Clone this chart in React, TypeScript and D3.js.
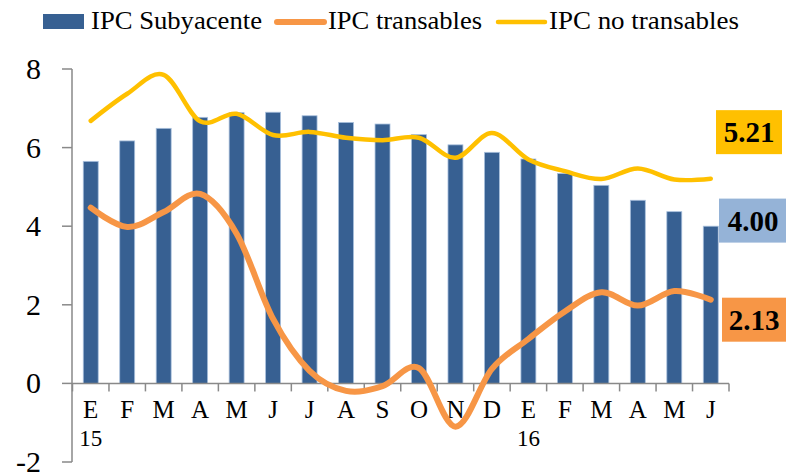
import React from "react";
import * as d3 from "d3";

const categories = ["E", "F", "M", "A", "M", "J", "J", "A", "S", "O", "N", "D", "E", "F", "M", "A", "M", "J"];
const yearLabels = ["15", "", "", "", "", "", "", "", "", "", "", "", "16", "", "", "", "", ""];
const subyacente = [5.65, 6.17, 6.49, 6.77, 6.89, 6.90, 6.81, 6.64, 6.60, 6.33, 6.07, 5.88, 5.71, 5.34, 5.04, 4.66, 4.37, 4.00];
const transables = [4.47, 3.98, 4.36, 4.82, 3.81, 1.64, 0.32, -0.19, -0.07, 0.39, -1.1, 0.37, 1.13, 1.83, 2.32, 1.98, 2.35, 2.13];
const noTransables = [6.68, 7.37, 7.85, 6.67, 6.86, 6.32, 6.40, 6.25, 6.19, 6.25, 5.74, 6.37, 5.70, 5.40, 5.20, 5.47, 5.19, 5.21];
const yTicks = [-2, 0, 2, 4, 6, 8];
const seriesNames = ["IPC Subyacente", "IPC transables", "IPC no transables"];
const endLabels = ["5.21", "4.00", "2.13"];

const W = 786, H = 474;
const BLUE = "#376092", ORANGE = "#F79646", YELLOW = "#FFC000", LIGHTBLUE = "#95B3D7", AXIS = "#898989";

function T(props: any) {
  const { children, ...rest } = props;
  return (
    <text fontFamily="Liberation Serif" style={{ fontFamily: "Liberation Serif" }} fill="#000" {...rest}>{children}</text>
  );
}

export default function App() {
  const x = d3.scaleBand<number>().domain(d3.range(categories.length)).range([72.5, 729]).paddingInner(0.59).paddingOuter(0.295);
  const xb = d3.scaleBand<number>().domain(d3.range(categories.length)).range([72.5, 729]);
  const y = d3.scaleLinear().domain([-2, 8]).range([462, 69]);
  const cx = (i: number) => (xb(i) as number) + xb.bandwidth() / 2;
  const line = d3.line<number>().x((_, i) => cx(i)).y((d) => y(d)).curve(d3.curveCatmullRom.alpha(0));
  const last = categories.length - 1;
  const boxes = [
    { text: endLabels[0], fill: YELLOW, x0: 716, x1: 782, cy: y(noTransables[last]) - 46.5, tx: 749 },
    { text: endLabels[1], fill: LIGHTBLUE, x0: 719, x1: 790, cy: y(subyacente[last]) - 5.6, tx: 753 },
    { text: endLabels[2], fill: ORANGE, x0: 722, x1: 790, cy: y(transables[last]) + 20, tx: 754 },
  ];
  const legendText = [
    { x: 91, w: 171 },
    { x: 328, w: 154 },
    { x: 549, w: 190 },
  ];
  return (
    <svg width={W} height={H} style={{ position: "absolute", left: 0, top: 0 }}>
      <style>{`text { font-family: "Liberation Serif", "Tinos", "Times New Roman", serif; }`}</style>
      {subyacente.map((v, i) => (
        <rect key={i} x={x(i)} y={y(Math.max(0, v))} width={x.bandwidth()} height={Math.abs(y(v) - y(0))}
          fill={BLUE} stroke="#A9C0DD" strokeWidth={0.8} />
      ))}
      <line x1={72} x2={72} y1={y(8)} y2={y(-2)} stroke={AXIS} strokeWidth={1.5} />
      {yTicks.map((t) => (
        <g key={t}>
          <line x1={62} x2={72} y1={y(t)} y2={y(t)} stroke={AXIS} strokeWidth={1.5} />
          <T x={41} y={y(t) + 10} textAnchor="end" fontSize={30}>{t}</T>
        </g>
      ))}
      <line x1={72} x2={729} y1={y(0)} y2={y(0)} stroke={AXIS} strokeWidth={1.5} />
      {d3.range(categories.length + 1).map((i) => {
        const xx = i < categories.length ? (xb(i) as number) : 729;
        return <line key={i} x1={xx} x2={xx} y1={y(0)} y2={y(0) + 8} stroke={AXIS} strokeWidth={1.5} />;
      })}
      {categories.map((c, i) => (
        <g key={i}>
          <T x={cx(i)} y={418} textAnchor="middle" fontSize={25}>{c}</T>
          {yearLabels[i] && <T x={cx(i)} y={446} textAnchor="middle" fontSize={23}>{yearLabels[i]}</T>}
        </g>
      ))}
      <path d={line(noTransables) || ""} fill="none" stroke={YELLOW} strokeWidth={4.5} strokeLinecap="round" />
      <path d={line(transables) || ""} fill="none" stroke={ORANGE} strokeWidth={6} strokeLinecap="round" />
      {boxes.map((b, i) => (
        <g key={i}>
          <rect x={b.x0} y={b.cy - 22} width={b.x1 - b.x0} height={44} fill={b.fill} />
          <T x={b.tx} y={b.cy + 10} textAnchor="middle" fontSize={29} fontWeight="bold">{b.text}</T>
        </g>
      ))}
      <rect x={43} y={14} width={41} height={15} fill={BLUE} />
      <line x1={277} x2={324} y1={22} y2={22} stroke={ORANGE} strokeWidth={6} strokeLinecap="round" />
      <line x1={498} x2={545} y1={22} y2={22} stroke={YELLOW} strokeWidth={4.5} strokeLinecap="round" />
      {seriesNames.map((n, i) => (
        <T key={n} x={legendText[i].x} y={29} fontSize={26}
          textLength={legendText[i].w} lengthAdjust="spacingAndGlyphs">{n}</T>
      ))}
    </svg>
  );
}
